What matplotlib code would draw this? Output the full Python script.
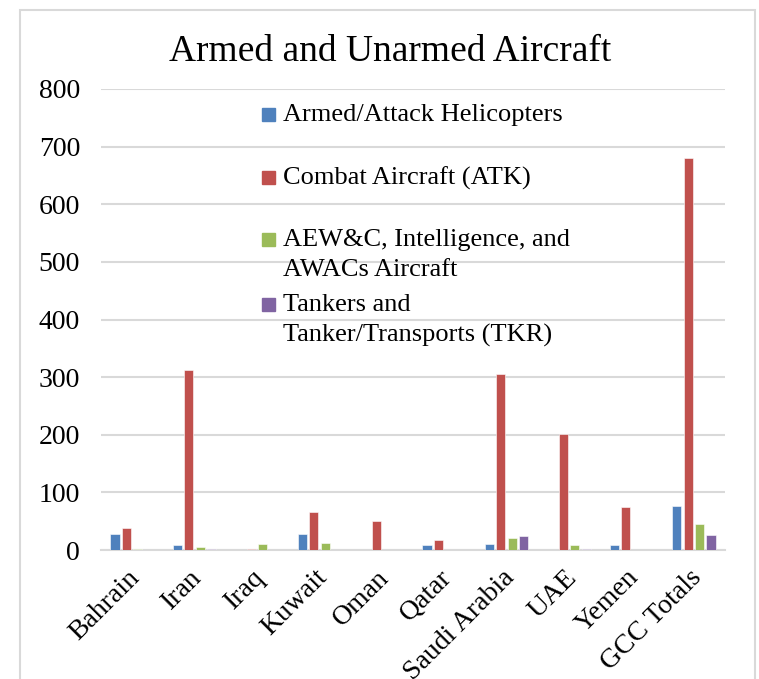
import numpy as np
import matplotlib.pyplot as plt
from matplotlib.patches import Rectangle
from matplotlib.transforms import ScaledTranslation

plt.rcParams['font.family'] = ['Liberation Serif', 'DejaVu Serif']

countries = ['Bahrain', 'Iran', 'Iraq', 'Kuwait', 'Oman', 'Qatar',
             'Saudi Arabia', 'UAE', 'Yemen', 'GCC Totals']
helicopters = [28, 9, 0, 28, 0, 8, 11, 0, 8, 76]
combat = [38, 313, 2, 66, 51, 17, 305, 201, 75, 680]
aewc = [1, 5, 10, 12, 0, 0, 21, 8, 0, 45]
tankers = [0, 2, 0, 0, 0, 0, 24, 2, 0, 26]

series_names = [
    ['Armed/Attack Helicopters'],
    ['Combat Aircraft (ATK)'],
    ['AEW&C, Intelligence, and', 'AWACs Aircraft'],
    ['Tankers and', 'Tanker/Transports (TKR)'],
]
series_values = [helicopters, combat, aewc, tankers]
colors = ['#4F81BD', '#C0504D', '#9BBB59', '#8064A2']

W, H = 759, 679
fig = plt.figure(figsize=(W / 100, H / 100), dpi=100)
ax = fig.add_axes([101 / W, 1 - 550 / H, 624 / W, 461 / H])

# light chart-area border
fig.patches.append(Rectangle((20 / W, -0.05), 735 / W, 1.05 - 10 / H,
                             transform=fig.transFigure, fill=False,
                             edgecolor='#D9D9D9', linewidth=1.5))

x = np.arange(len(countries))
pitch = 0.184
width = 0.145
for i, (vals, color) in enumerate(zip(series_values, colors)):
    ax.bar(x + (i - 1.5) * pitch, vals, width, color=color,
           edgecolor='white', linewidth=0.4, zorder=3)

ax.set_xlim(-0.5, len(countries) - 0.5)
ax.set_ylim(0, 800)
ax.set_yticks(range(0, 801, 100))
ax.yaxis.grid(True, color='#D9D9D9', linewidth=1.5, zorder=0)
ax.set_axisbelow(True)
for side in ['top', 'right', 'left']:
    ax.spines[side].set_visible(False)
ax.spines['bottom'].set_color('#D9D9D9')
ax.spines['bottom'].set_linewidth(1.5)
ax.tick_params(length=0, labelsize=20)
ax.tick_params(axis='y', pad=15)
ax.set_xticks(x)
ax.set_xticklabels(countries, rotation=45, ha='right', rotation_mode='anchor')
ax.tick_params(axis='x', pad=8)
# nudge the slanted category labels down and to the left
shift = ScaledTranslation(-5 / 100, -4 / 100, fig.dpi_scale_trans)
for lbl in ax.get_xticklabels():
    lbl.set_transform(lbl.get_transform() + shift)

fig.text(390 / W, 1 - 52 / H, 'Armed and Unarmed Aircraft',
         ha='center', va='center', fontsize=27)

# legend laid out by hand: square beside the first line of each entry
entry_y = [115, 178, 240, 305]
line_gap = 30
for lines, color, y0 in zip(series_names, colors, entry_y):
    fig.patches.append(Rectangle((262 / W, 1 - (y0 + 6) / H), 13 / W, 13 / H,
                                 transform=fig.transFigure, color=color))
    for k, line in enumerate(lines):
        fig.text(283 / W, 1 - (y0 + k * line_gap) / H, line,
                 ha='left', va='center', fontsize=19)

fig.savefig('out.png', dpi=100)
